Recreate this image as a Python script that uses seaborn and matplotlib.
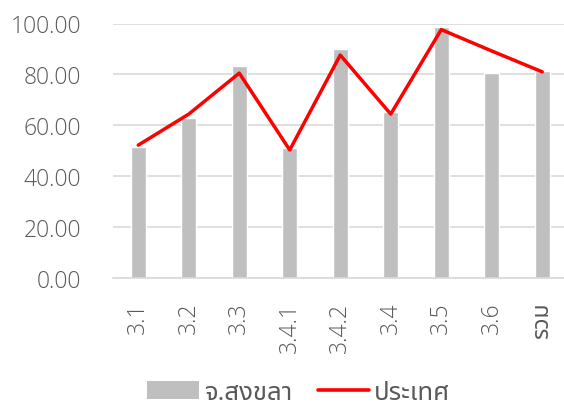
import matplotlib
matplotlib.use("Agg")
import matplotlib.pyplot as plt
import seaborn as sns
from matplotlib.patches import Patch
from matplotlib.lines import Line2D
from matplotlib.ticker import FixedLocator, StrMethodFormatter

# ข้อมูล
categories = ["3.1", "3.2", "3.3", "3.4.1", "3.4.2", "3.4", "3.5", "3.6", "รวม"]
songkhla = [51.4, 62.8, 83.4, 51.0, 89.8, 65.2, 98.5, 80.5, 81.3]
national = [52.2, 64.4, 80.5, 50.3, 87.6, 64.4, 97.6, 89.2, 81.0]
y_ticks = [0, 20, 40, 60, 80, 100]
legend_labels = ["จ.สงขลา", "ประเทศ"]

sns.set_style("white")
plt.rcParams["font.family"] = ["Open Sans", "Noto Sans Thai", "Noto Sans", "DejaVu Sans"]
plt.rcParams["font.weight"] = "light"

fig = plt.figure(figsize=(5.64, 4.10), dpi=100)
ax = fig.add_axes([113 / 564, 1 - 279 / 410, 454.5 / 564, 254.5 / 410])

sns.barplot(x=categories, y=songkhla, color="#BFBFBF", saturation=1, width=0.3, ax=ax)
sns.pointplot(x=categories, y=national, color="#FF0000", markers="", linewidth=2.5,
              errorbar=None, ax=ax)

ax.set_ylim(0, 100)
ax.yaxis.set_major_locator(FixedLocator(y_ticks))
ax.yaxis.set_major_formatter(StrMethodFormatter("{x:.2f}"))
ax.set_axisbelow(True)
ax.yaxis.grid(True, color="#D9D9D9", linewidth=1.2)
for s in ["top", "left", "right"]:
    ax.spines[s].set_visible(False)
ax.spines["bottom"].set_color("#D9D9D9")
ax.spines["bottom"].set_linewidth(1.2)

ax.tick_params(axis="y", length=0, pad=23, labelsize=16.5, labelcolor="#595959")
ax.tick_params(axis="x", length=0, pad=17, labelsize=16.5, labelcolor="#595959")
plt.setp(ax.get_xticklabels(), rotation=90)
# ตัวอักษรไทยใช้น้ำหนักปกติ
for t in ax.get_xticklabels():
    if t.get_text() == "รวม":
        t.set_fontweight("normal")
ax.set_xlabel("")
ax.set_ylabel("")

handles = [
    Patch(facecolor="#BFBFBF", edgecolor="none"),
    Line2D([0], [0], color="#FF0000", linewidth=2.6),
]
fig.legend(handles, legend_labels, loc="center", bbox_to_anchor=(0.53, 0.04),
           ncol=2, frameon=False, labelcolor="#595959",
           prop={"size": 18.5, "weight": "normal"},
           handlelength=2.0, handleheight=0.7, handletextpad=0.2, columnspacing=1.0)

fig.savefig("out.png", dpi=100)
